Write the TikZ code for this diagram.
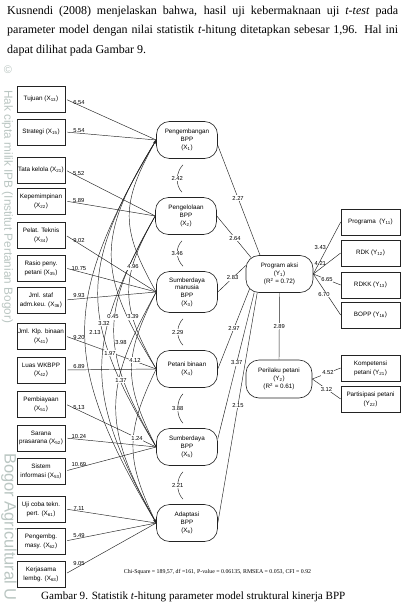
\documentclass[tikz,border=0pt]{standalone}
\usepackage{fontspec}
\setmainfont{Liberation Serif}
\setsansfont{Liberation Sans}
\usetikzlibrary{calc,arrows.meta}
\definecolor{wm}{RGB}{186,198,194}
\definecolor{ln}{RGB}{35,35,35}
\newcommand{\sbs}[1]{\textsubscript{#1}}
\begin{document}
\begin{tikzpicture}[x=1pt,y=-1pt,
  ind/.style={draw=ln, line width=0.65pt, fill=white, minimum width=48pt, minimum height=26pt, inner sep=0.5pt, align=center, font=\sffamily\fontsize{6.3}{8.8}\selectfont},
  indr/.style={ind, minimum width=59pt},
  lat/.style={draw=ln, line width=0.6pt, fill=white, rounded corners=13pt, minimum width=61pt, minimum height=37pt, inner sep=1pt, align=center, font=\sffamily\fontsize{6.3}{7.9}\selectfont},
  con/.style={draw=ln, line width=0.45pt},
  val/.style={font=\sffamily\fontsize{5.8}{6.5}\selectfont, inner sep=0.8pt},
  valw/.style={val, fill=white},
  wmt/.style={text=wm, inner sep=0pt, font=\sffamily},
]
\fill[white] (0,0) rectangle (403,607);
\useasboundingbox (0,0) rectangle (403,607);

% watermark
\node[wmt, font=\sffamily\fontsize{11}{11}\selectfont] (wm0) at (8,70) {©};
\node[wmt, rotate=-90, anchor=west, font=\sffamily\fontsize{11.8}{11.8}\selectfont] (wm1) at (7.5,90) {Hak cipta milik IPB (Institut Pertanian Bogor)};
\node[wmt, rotate=-90, anchor=west, font=\sffamily\fontsize{16.5}{16.5}\selectfont] (wm2) at (9,453) {Bogor Agricultural U};

% paragraph
\node[anchor=north west, text width=391pt, align=justify, inner sep=0pt, font=\fontsize{12}{19.5}\selectfont] (para) at (7,5.7)
{Kusnendi (2008) menjelaskan bahwa, hasil uji kebermaknaan uji \textit{t-test} pada\linebreak parameter model dengan nilai statistik \textit{t}-hitung ditetapkan sebesar 1,96. Hal ini\linebreak dapat dilihat pada Gambar 9.};

% indicators
\node[ind] (i13) at (41,99) {Tujuan (X\sbs{13})};
\node[ind] (i15) at (41,132) {Strategi (X\sbs{15})};
\node[ind] (i21) at (41,170) {Tata kelola (X\sbs{21})};
\node[ind] (i22) at (41,201) {Kepemimpinan\\(X\sbs{22})};
\node[ind] (i34) at (41,235) {Pelat. Teknis\\(X\sbs{34})};
\node[ind] (i35) at (41,268) {Rasio peny.\\petani (X\sbs{35})};
\node[ind] (i36) at (41,300) {Jml. staf\\adm.keu. (X\sbs{36})};
\node[ind] (i41) at (41,336) {Jml. Klp. binaan\\(X\sbs{41})};
\node[ind] (i42) at (41,370) {Luas WKBPP\\(X\sbs{42})};
\node[ind] (i51) at (41,404) {Pembiayaan\\(X\sbs{51})};
\node[ind] (i52) at (41,438) {Sarana\\prasarana (X\sbs{52})};
\node[ind] (i53) at (41,471) {Sistem\\informasi (X\sbs{53})};
\node[ind] (i61) at (41,509) {Uji coba tekn.\\pert. (X\sbs{61})};
\node[ind] (i62) at (41,541) {Pengembg.\\masy. (X\sbs{62})};
\node[ind] (i63) at (41,574) {Kerjasama\\lembg. (X\sbs{63})};

% latent
\node[lat] (X1) at (187,140) {Pengembangan\\BPP\\(X\sbs{1})};
\node[lat] (X2) at (186,216) {Pengelolaan\\BPP\\(X\sbs{2})};
\node[lat, minimum height=41pt, font=\sffamily\fontsize{6.3}{7.7}\selectfont] (X3) at (187,292) {Sumberdaya\\manusia\\BPP\\(X\sbs{3})};
\node[lat] (X4) at (187,369) {Petani binaan\\(X\sbs{4})};
\node[lat] (X5) at (187,447) {Sumberdaya\\BPP\\(X\sbs{5})};
\node[lat] (X6) at (187,523) {Adaptasi\\BPP\\(X\sbs{6})};
\node[lat, minimum width=67pt] (Y1) at (279.5,274) {Program aksi\\(Y\sbs{1})\\(R\textsuperscript{2} = 0.72)};
\node[lat, minimum width=66pt, minimum height=38pt] (Y2) at (279,379) {Perilaku petani\\(Y\sbs{2})\\(R\textsuperscript{2} = 0.61)};

% right indicators
\node[indr] (y11) at (370.5,222) {Programa\ \ (Y\sbs{11})};
\node[indr] (y12) at (370.5,253) {RDK (Y\sbs{12})};
\node[indr] (y13) at (370.5,285) {RDKK (Y\sbs{13})};
\node[indr] (y16) at (370.5,315) {BOPP (Y\sbs{16})};
\node[indr] (y21) at (370.5,368) {Kompetensi\\petani (Y\sbs{21})};
\node[indr] (y22) at (370.5,399) {Partisipasi petani\\(Y\sbs{22})};

% measurement lines
\foreach \a/\b/\v in {i13/X1/6.54, i15/X1/5.54, i21/X2/5.52, i22/X2/5.89, i34/X3/9.02, i35/X3/10.75, i36/X3/9.93, i41/X4/9.20, i42/X4/6.89, i51/X5/5.13, i52/X5/10.24, i53/X5/10.69, i61/X6/7.11, i62/X6/5.49, i63/X6/9.05}
  \draw[con, shorten <=2pt] (\a.east) -- (\b.west) node[val, pos=0.15, above]{\v};

% correlation arcs (left)
\draw[con, {Stealth[length=4pt,width=3pt]}-{Stealth[length=4pt,width=3pt]}] (X1.west) .. controls +(-95,161) and +(-95,-161) .. (X6.west);
\draw[con] (X1.west) .. controls +(-78,129) and +(-78,-129) .. (X5.west);
\draw[con] (X2.west) .. controls +(-72,129) and +(-72,-129) .. (X6.west);
\draw[con] (X1.west) .. controls +(-60,97) and +(-60,-97) .. (X4.west);
\draw[con] (X2.west) .. controls +(-56,97) and +(-56,-97) .. (X5.west);
\draw[con] (X3.west) .. controls +(-54,97) and +(-54,-97) .. (X6.west);
\draw[con] (X1.west) .. controls +(-36,64) and +(-36,-64) .. (X3.west);
\draw[con] (X2.west) .. controls +(-36,64) and +(-36,-64) .. (X4.west);
\draw[con] (X3.west) .. controls +(-33,65) and +(-33,-65) .. (X5.west);
\draw[con] (X4.west) .. controls +(-31,64) and +(-31,-64) .. (X6.west);
\node[valw] (c16) at (95,333) {2.13};
\node[valw] (c15) at (104,323) {3.32};
\node[valw] (c26) at (110,353) {1.97};
\node[valw] (c14) at (113,317) {0.45};
\node[valw] (c25) at (121,342) {3.98};
\node[valw] (c36) at (121,380) {1.37};
\node[valw] (c13) at (133,267) {4.96};
\node[valw] (c24) at (133,317) {3.39};
\node[valw] (c35) at (135,360) {4.12};
\node[valw] (c46) at (137,438) {1.24};

% adjacent arcs
\foreach \a/\b/\v in {X1/X2/2.42, X2/X3/3.46, X3/X4/2.29, X4/X5/3.88, X5/X6/2.21}
  \draw[con] ($(\a.south)+(-4,6)$) .. controls +(-7,7) and +(-7,-7) .. ($(\b.north)+(-4,-5)$) node[valw, pos=.5]{\v};

% structural paths
\draw[con] (X1.-10) -- (Y1.136) node[valw,pos=.48]{2.27};
\draw[con] (X2.east) -- ($(Y1.north west)+(5.4,2.4)$) node[valw,pos=.53]{2.64};
\draw[con] (X3.east) -- (Y1.166) node[valw,pos=.53]{2.83};
\draw[con] (X4.east) -- ($(Y1.south west)+(3.8,-3.8)$) node[valw,pos=.51]{2.97};
\draw[con] (X5.15) -- ($(Y1.south west)+(8.5,-0.2)$) node[valw,pos=.52]{3.37};
\draw[con] (X6.east) -- ($(Y1.south west)+(11.5,0)$) node[valw,pos=.51]{2.15};
\draw[con] (Y1.south) -- (Y2.north) node[valw,pos=.5]{2.89};

% Y indicators
\draw[con] (Y1.east) -- (y11.west) node[val,pos=.5,anchor=east]{3.43};
\draw[con] (Y1.east) -- (y12.west) node[val,pos=.5,anchor=east]{4.21};
\draw[con] (Y1.east) -- (y13.west) node[valw,pos=.5]{6.65};
\draw[con] (Y1.east) -- (y16.west) node[valw,pos=.5,xshift=-3pt]{6.70};
\draw[con] (Y2.east) -- (y21.west) node[valw,pos=.55]{4.52};
\draw[con] (Y2.east) -- (y22.west) node[valw,pos=.5]{3.12};

% fit statistics and caption
\node[anchor=base, font=\fontsize{5.85}{7}\selectfont, inner sep=0pt] (chi) at (217.5,573) {Chi-Square = 189,57, df =161, P-value = 0.06135, RMSEA = 0.053, CFI = 0.92};
\node[anchor=base west, font=\fontsize{11.1}{13}\selectfont, inner sep=0pt] (cap) at (41,599.5) {Gambar 9. Statistik \textit{t}-hitung parameter model struktural kinerja BPP};
\end{tikzpicture}
\end{document}
